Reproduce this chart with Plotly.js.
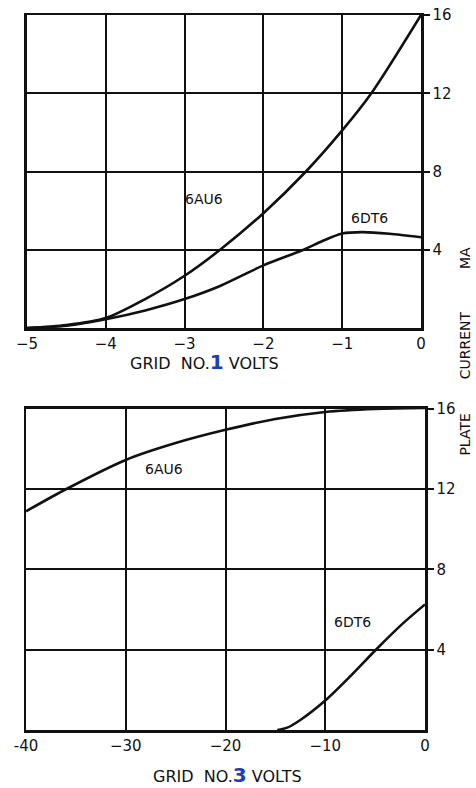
<!DOCTYPE html>
<html><head><meta charset="utf-8">
<script src="https://cdn.plot.ly/plotly-3.0.1.min.js"></script>
<style>html,body{margin:0;padding:0;background:#fff}</style>
</head><body><div id="chart" style="width:476px;height:788px"></div>
<script>
// Top panel: Grid No.1 volts
const g1Volts = [-5, -4.5, -4, -3.5, -3, -2.55, -2, -1.46, -1, -0.63, 0];
const g1_6AU6 = [0, 0.15, 0.51, 1.48, 2.67, 4.0, 5.87, 8.0, 10.1, 12.0, 16.0];
const g1VoltsDT = [-5, -4.5, -4, -3.5, -3, -2.55, -2, -1.49, -1.25, -1, -0.75, -0.4, 0];
const g1_6DT6 = [0, 0.12, 0.45, 0.9, 1.48, 2.15, 3.2, 4.0, 4.45, 4.83, 4.9, 4.82, 4.64];
// Bottom panel: Grid No.3 volts
const g3Volts = [-40, -36, -30, -25, -20, -15, -10, -5, 0];
const g3_6AU6 = [10.9, 12.0, 13.46, 14.3, 14.96, 15.5, 15.85, 16.0, 16.05];
const g3VoltsDT = [-14.8, -13.8, -12.5, -10, -7.45, -4.92, -2.24, 0];
const g3_6DT6 = [0, 0.12, 0.5, 1.47, 2.7, 4.0, 5.3, 6.26];
const yTicks = [4, 8, 12, 16];
const x1Ticks = [-5, -4, -3, -2, -1, 0];
const x1Labels = ["−5", "−4", "−3", "−2", "−1", "0"];
const x3Ticks = [-40, -30, -20, -10, 0];
const x3Labels = ["-40", "−30", "−20", "−10", "0"];

const lineStyle = {color: '#111', width: 2.6, shape: 'spline', smoothing: 0.8};
const traces = [
  {x: g1Volts, y: g1_6AU6, xaxis: 'x', yaxis: 'y', mode: 'lines', line: lineStyle},
  {x: g1VoltsDT, y: g1_6DT6, xaxis: 'x', yaxis: 'y', mode: 'lines', line: lineStyle},
  {x: g3Volts, y: g3_6AU6, xaxis: 'x2', yaxis: 'y2', mode: 'lines', line: lineStyle},
  {x: g3VoltsDT, y: g3_6DT6, xaxis: 'x2', yaxis: 'y2', mode: 'lines', line: lineStyle}
];
const font = {family: 'DejaVu Sans, sans-serif', color: '#111', size: 14};
const titleFont = {family: 'DejaVu Sans, sans-serif', color: '#111', size: 16};
const tickFont = {family: 'DejaVu Sans, sans-serif', color: '#111', size: 15};
const axBase = {showline: true, linecolor: '#111', linewidth: 2.5, mirror: true,
  showgrid: true, gridcolor: '#111', gridwidth: 2, zeroline: false, tickfont: tickFont, fixedrange: true};
const blue = '#1b3fb5';
const layout = {
  width: 476, height: 788, showlegend: false,
  paper_bgcolor: '#fff', plot_bgcolor: '#fff',
  margin: {l: 26, r: 51, t: 15, b: 58},
  font: font,
  xaxis: Object.assign({}, axBase, {domain: [0.0025, 0.99], anchor: 'y', range: [-5, 0],
    tickmode: 'array', tickvals: x1Ticks, ticktext: x1Labels, ticks: '', ticklen: 0}),
  yaxis: Object.assign({}, axBase, {domain: [0.5622, 1], anchor: 'x', range: [0, 16], side: 'right',
    tickmode: 'array', tickvals: yTicks, ticks: 'outside', ticklen: 6, tickcolor: '#111', tickwidth: 2}),
  xaxis2: Object.assign({}, axBase, {domain: [0, 1], anchor: 'y2', range: [-40, 0],
    tickmode: 'array', tickvals: x3Ticks, ticktext: x3Labels, ticks: '', ticklen: 0}),
  yaxis2: Object.assign({}, axBase, {domain: [0, 0.449], anchor: 'x2', range: [0, 16], side: 'right',
    tickmode: 'array', tickvals: yTicks, ticks: 'outside', ticklen: 6, tickcolor: '#111', tickwidth: 2}),
  annotations: [
    {text: '6AU6', xref: 'x', yref: 'y', x: -2.75, y: 6.6, showarrow: false, font: font},
    {text: '6DT6', xref: 'x', yref: 'y', x: -0.65, y: 5.6, showarrow: false, font: font},
    {text: '6AU6', xref: 'x2', yref: 'y2', x: -26.2, y: 13.0, showarrow: false, font: font},
    {text: '6DT6', xref: 'x2', yref: 'y2', x: -7.3, y: 5.4, showarrow: false, font: font},
    {text: 'GRID  NO.<span style="color:' + blue + ';font-size:20px"><b>1</b></span> VOLTS',
     xref: 'paper', yref: 'paper', x: 0.4486, y: 0.5147, xanchor: 'center', yanchor: 'middle',
     showarrow: false, font: titleFont},
    {text: 'GRID  NO.<span style="color:' + blue + ';font-size:20px"><b>3</b></span> VOLTS',
     xref: 'paper', yref: 'paper', x: 0.5038, y: -0.0625, xanchor: 'center', yanchor: 'middle',
     showarrow: false, font: titleFont},
    {text: 'PLATE', xref: 'paper', yref: 'paper', x: 1.1, y: 0.413, xanchor: 'center', yanchor: 'middle',
     textangle: -90, showarrow: false, font: font},
    {text: 'CURRENT', xref: 'paper', yref: 'paper', x: 1.1, y: 0.538, xanchor: 'center', yanchor: 'middle',
     textangle: -90, showarrow: false, font: font},
    {text: 'MA', xref: 'paper', yref: 'paper', x: 1.1, y: 0.660, xanchor: 'center', yanchor: 'middle',
     textangle: -90, showarrow: false, font: font}
  ]
};
Plotly.newPlot('chart', traces, layout, {displayModeBar: false, staticPlot: true});
</script></body></html>
